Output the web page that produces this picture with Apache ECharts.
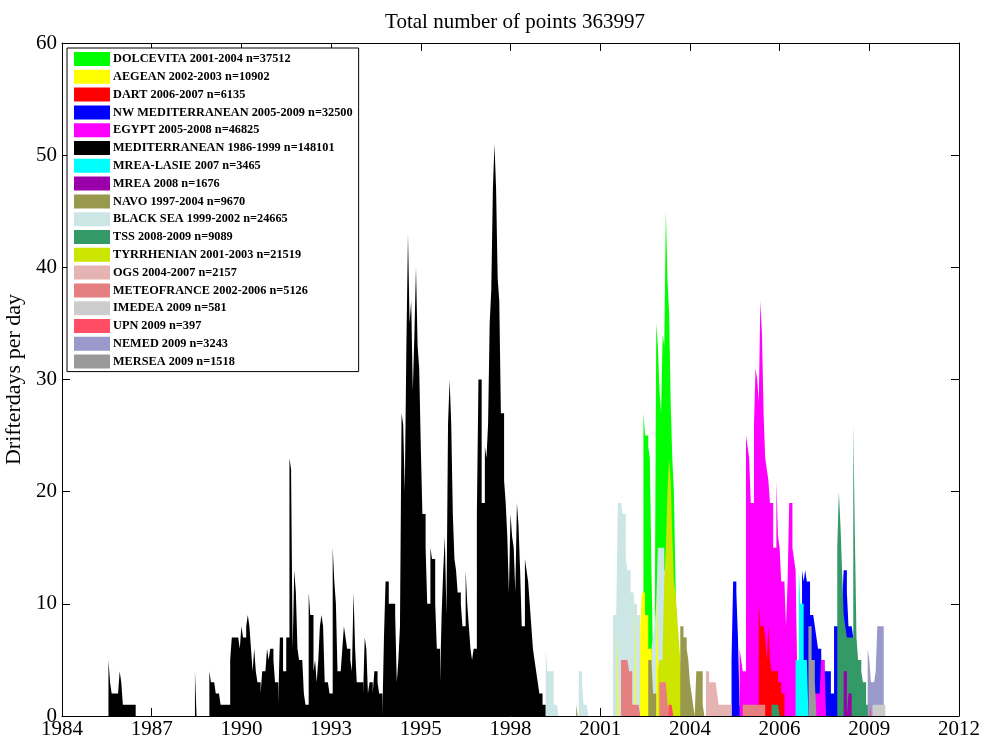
<!DOCTYPE html>
<html><head><meta charset="utf-8">
<script src="https://cdn.jsdelivr.net/npm/echarts@6/dist/echarts.min.js"></script>
<style>html,body{margin:0;padding:0;background:#fff}#c{width:981px;height:743px}</style>
</head><body><div id="c"></div>
<script>
// ---- axis / tick data ----
const X0 = 1984;              // axis origin (year)
const XSPAN = 28;             // 1984 .. 2012
const XTICK = 2.8;            // tick spacing in years
const xTickLabels = ['1984','1987','1990','1993','1995','1998','2001','2004','2006','2009','2012'];
const STEP = 0.05;            // bin width (years)

// ---- series values: [binStartYear, [values per 0.05-yr bin]] ----
const dolcevita = [
  [2002.15, [27,25,25,24,23,13,5,6,35,33,29,27,34,33,45,39,36,28,23,20,12,6]],
  [2003.35, [7,7,7]]
];
const aegean = [
  [2001.33, [8]], [2001.88, [11]],
  [2002.05, [8,11,11,9,9,6,6,6]], [2002.55, [11,6]]
];
const dart = [[2005.75, [10,8,8,8,7,5,8,5,4,4,4,4,3,3,2,2]]];
const nwMed = [
  [2004.90, [5,12,12,11,7,1]],
  [2007.10, [13,12,13,12,12,9,9,9,8,7,6,6,5,5,4,4,4,4,2,2,8,8,8,8,8,10,13,13,11,8,8,8,7]]
];
const egypt = [
  [2005.15, [6,5,4,4,25,24,23,19,19,26,31,30,28,37,34,27,23,22,21,19,19,15,15,21,16,15,12,12,12,8,12,19,19,15,14,13,4,4]],
  [2007.45, [2,2,2,2,2,5,5,5]]
];
const mediterranean = [
  [1985.45, [5,3,2,2,2,2,2,4,3,1,1,1,1,1,1,1,1]],
  [1988.15, [4]],
  [1988.60, [4,3,3,3,2,2,2,1,1,1,1,1,1,
    5,7,7,7,7,7,6,8,7,7,8,9,8,6,4,6,4,3,3,2,4,4,4,6,5,6,6,5,3,3,1,7,7,4,4,7,7,
    23,22,6,13,11,6,5,5,5,2,1,1,11,9,9,4,5,3,5,8,9,8,3,3,3,2,2,15,12,10,4,4,4,6,8,7,6,6,5,4,11,6,3,3,3,3,2,7,6,2,
    3,3,2,4,4,3,2,2,0,7,12,12,10,10,10,10,9,3,5,8,
    27,26,20,33,43,35,37,29,34,40,33,31,24,18,18,15,10,10,15,14,14,10,6,6,3,9,13,16,9,26,30,26,18,14,13,11,11,10,8,8,
    13,10,8,6,5,6,6,18,30,30,19,19,24,23,26,35,38,47,51,47,39,37,27,27,21,19,16,11,18,16,15,11,19,17,13,8,8,14,13,12,10,8,6,5,4,3,2,2,1,1]]
];
const mreaLasie = [[2006.90, [5,5,13,10,10,5,5,5]]];
const mrea = [[2008.40, [4,4,0,2,2]]];
const navo = [
  [2000.05, [1]], [2002.30, [5,5,5,2,2]],
  [2003.30, [8,8,7,7,6,5,3,2,1,0,4,4,4,4,1]]
];
const blackSea = [
  [1999.10, [6,4,4,4,4,1,1,1]],
  [2000.13, [4,4,3,1,1,1]],
  [2001.20, [9,9,9,19,19,19,18,18,14,13,13,11,11,10,10,9,9,7,5,5,5,5,5,5,6,7,8,10,15,15,15,15,13,13,13,13,7,5,3,3,2]]
];
const tss = [
  [2006.15, [1,1,1,1,1]],
  [2008.20, [15,20,17,13,9,8,7,7,7,7,26,16,7,5,5,4,3,3,1,1]]
];
const tyrrhenian = [[2002.60, [4,5,5,6,12,15,20,23,21,16,12,11,9,7,5,3,1]]];
const ogs = [[2004.10, [4,4,3,3,3,3,3,2,1,1,1,1,1,1,1,1]]];
const meteofrance = [
  [2001.45, [5,5,5,5,5,4,4,1,1,1,1,1]],
  [2002.65, [3,3,3,3,3,1]],
  [2005.25, [1,1,1,1,1,1,1,1,1,1,1,1,1,1]]
];
const imedea = [[2009.30, [1,1,1,1,1,1,1,1]]];
const upn = [[2002.93, [1,1,1]], [2009.22, [1]]];
const nemed = [[2009.15, [6,5,3,3,3,4,8,8,8,8]]];
const mersea = [[2007.30, [8,8,5,5,3]]];

// ---- names / colours (legend order) ----
const legendNames = [
  'DOLCEVITA 2001-2004 n=37512','AEGEAN 2002-2003 n=10902','DART 2006-2007 n=6135',
  'NW MEDITERRANEAN 2005-2009 n=32500','EGYPT 2005-2008 n=46825','MEDITERRANEAN 1986-1999 n=148101',
  'MREA-LASIE 2007 n=3465','MREA 2008 n=1676','NAVO 1997-2004 n=9670','BLACK SEA 1999-2002 n=24665',
  'TSS 2008-2009 n=9089','TYRRHENIAN 2001-2003 n=21519','OGS 2004-2007 n=2157',
  'METEOFRANCE 2002-2006 n=5126','IMEDEA 2009 n=581','UPN 2009 n=397','NEMED 2009 n=3243','MERSEA 2009 n=1518'
];
const legendColors = [
  '#00FF00','#FFFF00','#FF0000','#0000FF','#FF00FF','#000000','#00FFFF','#9900AA','#99994D',
  '#CCE6E6','#339966','#CCE600','#E6B3B3','#E68080','#CCCCCC','#FF4D66','#9999CC','#999999'
];
const seriesData = [dolcevita, aegean, dart, nwMed, egypt, mediterranean, mreaLasie, mrea, navo,
  blackSea, tss, tyrrhenian, ogs, meteofrance, imedea, upn, nemed, mersea];
// drawing order (back to front), as indices into legend list
const drawOrder = [3,4,2,5,0,9,1,11,8,6,17,10,7,12,13,16,14,15];

function toPoints(segs){
  const pts = [];
  segs.forEach(([start, vals]) => {
    vals.forEach((v, i) => pts.push([start + i*STEP - X0, v]));
    pts.push([start + vals.length*STEP - X0, 0]);
  });
  return pts;
}

const FONT = 'Liberation Serif';
const series = drawOrder.map(k => ({
  type: 'line', name: legendNames[k], data: toPoints(seriesData[k]),
  step: 'end', symbol: 'none', showSymbol: false, silent: true,
  color: legendColors[k],
  lineStyle: {width: 0, color: legendColors[k]},
  itemStyle: {color: legendColors[k]},
  areaStyle: {color: legendColors[k], opacity: 1},
  animation: false
}));

function axisCommon(){
  return {
    axisLine: {show: true, onZero: false, lineStyle: {color: '#000', width: 1}},
    axisTick: {show: true, inside: true, length: 8, lineStyle: {color: '#000', width: 1}},
    splitLine: {show: false}
  };
}

const chart = echarts.init(document.getElementById('c'), null, {renderer: 'canvas'});
chart.setOption({
  animation: false,
  backgroundColor: '#fff',
  title: {
    text: 'Total number of points 363997', left: 510, textAlign: 'center', top: 7,
    textStyle: {fontFamily: FONT, fontSize: 21, fontWeight: 'normal', color: '#000'}
  },
  legend: {
    data: legendNames, orient: 'vertical', left: 67, top: 48,
    padding: [4, 6, 3, 7], itemGap: 3.8, itemWidth: 36, itemHeight: 14,
    icon: 'rect', selectedMode: false,
    backgroundColor: '#fff', borderColor: '#000', borderWidth: 1,
    itemStyle: {borderWidth: 0},
    textStyle: {fontFamily: FONT, fontSize: 12.3, fontWeight: 'bold', color: '#000', padding: [0,0,0,-2]}
  },
  grid: {left: 62, right: 22, top: 43, bottom: 27, containLabel: false, outerBoundsMode: 'none'},
  xAxis: [
    Object.assign({type: 'value', min: 0, max: XSPAN, interval: XTICK, position: 'bottom',
      axisLabel: {showMinLabel: true, showMaxLabel: true, margin: 3,
        fontFamily: FONT, fontSize: 21, color: '#000',
        formatter: v => xTickLabels[Math.round(v / XTICK)]}}, axisCommon()),
    Object.assign({type: 'value', min: 0, max: XSPAN, interval: XTICK, position: 'top',
      axisLabel: {show: false}}, axisCommon())
  ],
  yAxis: [
    Object.assign({type: 'value', min: 0, max: 60, interval: 10, position: 'left',
      name: 'Drifterdays per day', nameLocation: 'middle', nameGap: 29, nameRotate: 90,
      nameTextStyle: {fontFamily: FONT, fontSize: 22, color: '#000'},
      axisLabel: {margin: 5, fontFamily: FONT, fontSize: 21, color: '#000'}}, axisCommon()),
    Object.assign({type: 'value', min: 0, max: 60, interval: 10, position: 'right',
      axisLabel: {show: false}}, axisCommon())
  ],
  series: series
});
</script></body></html>
